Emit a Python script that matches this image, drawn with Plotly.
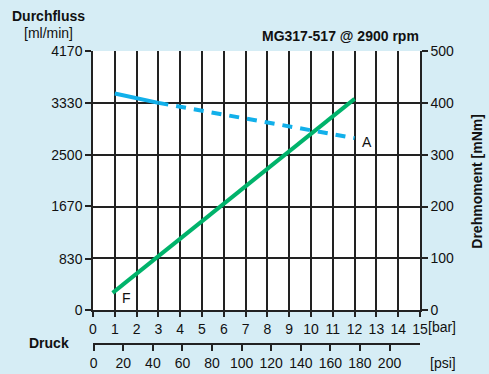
import plotly.graph_objects as go

# Data
flow_bar = [0.9, 12]
flow_ml = [280, 3400]
torque_solid_bar = [1, 3]
torque_solid = [418, 400]
torque_dash_bar = [3, 12]
torque_dash = [400, 332]

bar_ticks = list(range(0, 16))
flow_ticks = [0, 830, 1670, 2500, 3330, 4170]
torque_ticks = [0, 100, 200, 300, 400, 500]
psi_ticks = list(range(0, 201, 20))

GREEN = "#00b36b"
BLUE = "#12b0ea"
BG = "rgb(214,237,245)"
FONT = "Liberation Sans, Arial, sans-serif"
INK = "#111111"

fig = go.Figure()
fig.add_trace(go.Scatter(x=flow_bar, y=flow_ml, mode="lines",
                         line=dict(color=GREEN, width=4), yaxis="y", xaxis="x",
                         showlegend=False, hoverinfo="skip"))
fig.add_trace(go.Scatter(x=torque_solid_bar, y=torque_solid, mode="lines",
                         line=dict(color=BLUE, width=4), yaxis="y2", xaxis="x",
                         showlegend=False, hoverinfo="skip"))
fig.add_trace(go.Scatter(x=torque_dash_bar, y=torque_dash, mode="lines",
                         line=dict(color=BLUE, width=4, dash="10px,8px"), yaxis="y2", xaxis="x",
                         showlegend=False, hoverinfo="skip"))
# invisible trace so the psi axis is drawn
fig.add_trace(go.Scatter(x=[0], y=[0], mode="markers", marker=dict(opacity=0),
                         xaxis="x2", yaxis="y", showlegend=False, hoverinfo="skip"))

W, H = 489, 374
ML, MR, MT, MB = 93, 69, 51, 30
PW = W - ML - MR
PH = H - MT - MB
ydom0 = (344 - 310.3) / PH

def px(xp):
    return (xp - ML) / PW

def py(yp):
    return (H - MB - yp) / PH

axis_font = dict(family=FONT, size=14, color=INK)
common = dict(showline=True, linecolor="#222", linewidth=1.5, ticks="outside",
              tickcolor="#222", tickwidth=1.5, zeroline=False, tickfont=axis_font,
              automargin=False)

fig.update_layout(
    width=W, height=H,
    margin=dict(l=ML, r=MR, t=MT, b=MB, pad=0, autoexpand=False),
    paper_bgcolor=BG, plot_bgcolor="white",
    font=axis_font,
    xaxis=dict(range=[0, 15], tickvals=bar_ticks, showgrid=True, gridcolor="#222", gridwidth=1.5,
               ticklen=5, anchor="y", **common),
    xaxis2=dict(range=[-0.5, 220.6], tickvals=psi_ticks, overlaying="x", anchor="free", position=0,
                side="bottom", showgrid=False, ticklen=6, **common),
    yaxis=dict(domain=[ydom0, 1], range=[0, 4170], tickvals=flow_ticks, showgrid=False,
               ticklen=6, **common),
    yaxis2=dict(domain=[ydom0, 1], range=[0, 500], tickvals=torque_ticks, overlaying="y", side="right",
                anchor="x", showgrid=True, gridcolor="#222", gridwidth=1.5, ticklen=6, **common),
)

ann = []
def add(text, xp, yp, bold=False, xanchor="center", angle=0, size=14):
    ann.append(dict(text=("<b>%s</b>" % text) if bold else text, x=px(xp), y=py(yp),
                    xref="paper", yref="paper", showarrow=False, xanchor=xanchor,
                    yanchor="middle", textangle=angle,
                    font=dict(family=FONT, size=size, color=INK)))

add("Durchfluss", 48.5, 16, bold=True)
add("[ml/min]", 48, 33)
add("MG317-517 @ 2900 rpm", 421, 35.5, bold=True, xanchor="right")
add("Drehmoment [mNm]", 476.7, 181, bold=True, angle=-90)
add("Druck", 48.5, 343, bold=True)
add("[bar]", 442, 327)
add("[psi]", 442.5, 363)

ann.append(dict(text="F", x=1.52, y=203, xref="x", yref="y", showarrow=False,
                font=dict(family=FONT, size=14, color=INK)))
ann.append(dict(text="A", x=12.55, y=325, xref="x", yref="y2", showarrow=False,
                font=dict(family=FONT, size=14, color=INK)))
fig.update_layout(annotations=ann)

fig.write_html("out.html")
